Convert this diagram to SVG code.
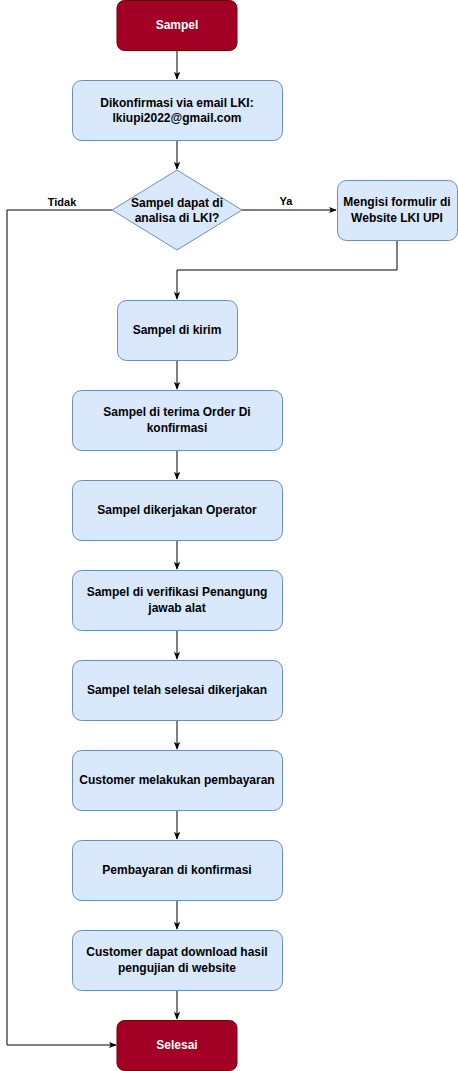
<svg xmlns="http://www.w3.org/2000/svg" width="458" height="1071" viewBox="0 0 458 1071">
<defs>
<marker id="arr" viewBox="0 0 10 10" refX="9" refY="5" markerWidth="8" markerHeight="8" markerUnits="userSpaceOnUse" orient="auto">
<path d="M0,1 L10,5 L0,9 L2.5,5 Z" fill="#000"/>
</marker>
<style>
.term rect{fill:#a20025;stroke:#6f0000;stroke-width:1}
.proc rect,.dec polygon{fill:#dae8fc;stroke:#6c8ebf;stroke-width:1}
text{font-family:"Liberation Sans",Arial,sans-serif;font-size:12px;font-weight:bold;text-anchor:middle}
.term text{fill:#fff}
.proc text,.dec text{fill:#000}
.lbl{font-size:11px}
.edge{fill:none;stroke:#000;stroke-width:1;marker-end:url(#arr)}
</style>
</defs>
<g id="connectors">
<path class="edge" d="M177,50 V79"/>
<path class="edge" d="M177,140 V169"/>
<path class="edge" d="M242,210 H336"/>
<path class="edge" d="M397,240 V270 H177 V299"/>
<path class="edge" d="M177,360 V389"/>
<path class="edge" d="M177,450 V479"/>
<path class="edge" d="M177,540 V569"/>
<path class="edge" d="M177,630 V659"/>
<path class="edge" d="M177,720 V749"/>
<path class="edge" d="M177,810 V839"/>
<path class="edge" d="M177,900 V929"/>
<path class="edge" d="M177,990 V1019"/>
<path class="edge" d="M112,210 H7 V1045 H116"/>
<text class="lbl" x="62" y="206">Tidak</text>
<text class="lbl" x="286" y="205">Ya</text>
</g>
<g id="start" class="term"><rect x="117" y="0.5" width="120" height="50" rx="7.5"/><text x="177" y="29">Sampel</text></g>
<g id="confirm" class="proc"><rect x="72.5" y="80.5" width="210" height="60" rx="9"/><text x="177" y="107">Dikonfirmasi via email LKI:</text><text x="177" y="122">lkiupi2022@gmail.com</text></g>
<g id="decision" class="dec"><polygon points="177,170 242,210 177,250 112,210"/><text x="177" y="207">Sampel dapat di</text><text x="177" y="222">analisa di LKI?</text></g>
<g id="form" class="proc"><rect x="337.5" y="180.5" width="120" height="60" rx="9"/><text x="397" y="206">Mengisi formulir di</text><text x="397" y="222">Website LKI UPI</text></g>
<g id="kirim" class="proc"><rect x="117.5" y="300.5" width="120" height="60" rx="9"/><text x="177" y="334">Sampel di kirim</text></g>
<g id="terima" class="proc"><rect x="72.5" y="390.5" width="210" height="60" rx="9"/><text x="177" y="416">Sampel di terima Order Di</text><text x="177" y="432">konfirmasi</text></g>
<g id="operator" class="proc"><rect x="72.5" y="480.5" width="210" height="60" rx="9"/><text x="177" y="514">Sampel dikerjakan Operator</text></g>
<g id="verifikasi" class="proc"><rect x="72.5" y="570.5" width="210" height="60" rx="9"/><text x="177" y="596">Sampel di verifikasi Penangung</text><text x="177" y="612">jawab alat</text></g>
<g id="selesai-kerja" class="proc"><rect x="72.5" y="660.5" width="210" height="60" rx="9"/><text x="177" y="694">Sampel telah selesai dikerjakan</text></g>
<g id="bayar" class="proc"><rect x="72.5" y="750.5" width="210" height="60" rx="9"/><text x="177" y="784">Customer melakukan pembayaran</text></g>
<g id="konfirmasi-bayar" class="proc"><rect x="72.5" y="840.5" width="210" height="60" rx="9"/><text x="177" y="874">Pembayaran di konfirmasi</text></g>
<g id="download" class="proc"><rect x="72.5" y="930.5" width="210" height="60" rx="9"/><text x="177" y="956">Customer dapat download hasil</text><text x="177" y="972">pengujian di website</text></g>
<g id="end" class="term"><rect x="117" y="1020.5" width="120" height="50" rx="7.5"/><text x="177" y="1049">Selesai</text></g>
</svg>
